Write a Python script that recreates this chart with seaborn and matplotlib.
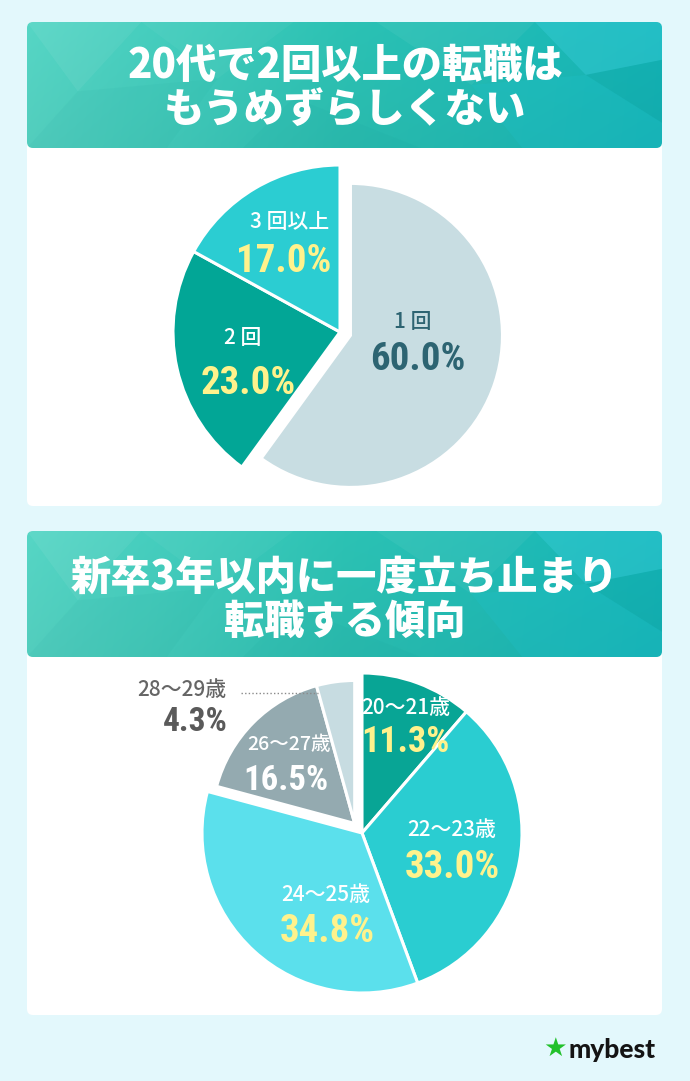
import numpy as np
import matplotlib
matplotlib.use("Agg")
import matplotlib.pyplot as plt
import seaborn as sns
from matplotlib.patches import Polygon, FancyBboxPatch
from matplotlib.colors import to_rgb

# ---------------- data ----------------
title1 = ["20代で2回以上の転職は", "もうめずらしくない"]
pie1_labels = ["1回", "2回", "3回以上"]
pie1_values = [60.0, 23.0, 17.0]
pie1_colors = ["#c8dde2", "#02a696", "#2bcdd2"]

title2 = ["新卒3年以内に一度立ち止まり", "転職する傾向"]
pie2_labels = ["20～21歳", "22～23歳", "24～25歳", "26～27歳", "28～29歳"]
pie2_values = [11.3, 33.0, 34.8, 16.5, 4.3]
pie2_colors = ["#08a595", "#2acdd1", "#5be0ec", "#94aab0", "#c7dce1"]

brand = "mybest"

# ---------------- style ----------------
sns.set_theme(style="white")
plt.rcParams["font.family"] = ["Noto Sans CJK JP", "DejaVu Sans"]
BG = "#e3f8fc"
W, H = 690, 1081


def Y(y):
    return H - y


fig = plt.figure(figsize=(W / 100, H / 100), dpi=100, facecolor=BG)
ax = fig.add_axes([0, 0, 1, 1])
ax.set_facecolor(BG)


def header_image(w, h):
    xs = np.linspace(0, 1, w)[None, :]
    ys = np.linspace(0, 1, h)[:, None]
    left = np.array(to_rgb("#56d6c5"))
    mid = np.array(to_rgb("#2cc2b4"))
    right = np.array(to_rgb("#15b6b8"))
    t = xs[..., None]
    img = np.where(t < 0.5, left + (mid - left) * (t / 0.5),
                   mid + (right - mid) * ((t - 0.5) / 0.5))
    img = img * (1 - 0.04 * ys[..., None])
    img = np.broadcast_to(img, (h, w, 3)).copy()
    return np.clip(img, 0, 1)


def panel(top, hdr_bottom, bottom, lines):
    x0, x1 = 27, 662
    body = FancyBboxPatch((x0, Y(bottom)), x1 - x0, bottom - top,
                          boxstyle="round,pad=0,rounding_size=6",
                          fc="white", ec="none", zorder=1)
    ax.add_patch(body)
    clip = FancyBboxPatch((x0, Y(hdr_bottom)), x1 - x0, hdr_bottom - top,
                          boxstyle="round,pad=0,rounding_size=6",
                          fc="none", ec="none", zorder=2)
    ax.add_patch(clip)
    im = ax.imshow(header_image(300, 60), extent=(x0, x1, Y(hdr_bottom), Y(top)),
                   aspect="auto", zorder=2, interpolation="bilinear")
    im.set_clip_path(clip)
    hh = hdr_bottom - top
    facets = [
        ([(0.00, 0), (0.18, 0), (0.08, 0.55)], "white", 0.06),
        ([(0.18, 0), (0.42, 0), (0.30, 0.45)], "white", 0.04),
        ([(0.08, 0.55), (0.30, 0.45), (0.22, 1.0), (0.0, 1.0)], "#0a8f8a", 0.05),
        ([(0.55, 0), (0.80, 0), (0.70, 0.5)], "white", 0.05),
        ([(0.80, 0), (1.0, 0), (1.0, 0.30), (0.88, 0.42)], "#3fd0e0", 0.35),
        ([(0.88, 0.42), (1.0, 0.30), (1.0, 0.80)], "#0a9ea0", 0.18),
        ([(0.70, 0.5), (0.88, 0.42), (1.0, 0.80), (1.0, 1.0), (0.78, 1.0)], "#20c2cc", 0.25),
        ([(0.42, 0.6), (0.62, 1.0), (0.34, 1.0)], "#0a8f8a", 0.05),
    ]
    for pts, col, a in facets:
        poly = Polygon([(x0 + px * (x1 - x0), Y(top + py * hh)) for px, py in pts],
                       closed=True, fc=col, ec="none", alpha=a, zorder=2.5)
        ax.add_patch(poly)
        poly.set_clip_path(clip)
    for txt, yy in lines:
        ax.text(345, Y(yy), txt, ha="center", va="center", color="white",
                fontsize=29, fontweight="black", zorder=3)


panel(22, 148, 506, [(title1[0], 66), (title1[1], 111)])
panel(531, 657, 1015, [(title2[0], 578), (title2[1], 622)])

wp = dict(edgecolor="white", linewidth=2.2)


def explode_group(wedges, idx, cx, cy, dist, new_r):
    t1 = min(wedges[i].theta1 for i in idx)
    t2 = max(wedges[i].theta2 for i in idx)
    mid = np.deg2rad((t1 + t2) / 2)
    c = (cx + dist * np.cos(mid), cy + dist * np.sin(mid))
    for i in idx:
        wedges[i].set_center(c)
        wedges[i].set_radius(new_r)


# ---------------- pie 1 ----------------
c1 = (340, Y(332))
w1, _ = ax.pie(pie1_values, colors=pie1_colors, startangle=90, counterclock=False,
               center=c1, radius=167, wedgeprops=wp, frame=True)
explode_group(w1, [0], c1[0], c1[1], 11, 152)

PCT = dict(family=["Roboto Condensed", "Roboto", "DejaVu Sans"], fontstretch="condensed",
           fontweight="bold", ha="center", va="center")
LAB = dict(ha="center", va="center", fontsize=15, fontweight="medium")
YEL = "#fff28c"

ax.text(290, Y(222), "3 回以上", color="white", **LAB)
ax.text(284, Y(262), f"{pie1_values[2]:.1f}%", color=YEL, fontsize=28, **PCT)
ax.text(243, Y(338), "2 回", color="white", **LAB)
ax.text(248, Y(384), f"{pie1_values[1]:.1f}%", color=YEL, fontsize=28, **PCT)
ax.text(413, Y(322), "1 回", color="#2d6472", **LAB)
ax.text(418, Y(359), f"{pie1_values[0]:.1f}%", color="#2d6472", fontsize=28, **PCT)

# ---------------- pie 2 ----------------
c2 = (362, Y(833))
w2, _ = ax.pie(pie2_values, colors=pie2_colors, startangle=90, counterclock=False,
               center=c2, radius=160, wedgeprops=wp, frame=True)
explode_group(w2, [3, 4], c2[0], c2[1], 12, 143)

ax.text(406, Y(708), pie2_labels[0], color="white", **LAB)
ax.text(405, Y(742), f"{pie2_values[0]:.1f}%", color=YEL, fontsize=26, **PCT)
ax.text(452, Y(830), pie2_labels[1], color="white", **LAB)
ax.text(452, Y(868), f"{pie2_values[1]:.1f}%", color=YEL, fontsize=28, **PCT)
ax.text(326, Y(895), pie2_labels[2], color="white", **LAB)
ax.text(327, Y(932), f"{pie2_values[2]:.1f}%", color=YEL, fontsize=28, **PCT)
ax.text(289, Y(745), pie2_labels[3], color="white", ha="center", va="center",
        fontsize=14, fontweight="medium")
ax.text(286, Y(780), f"{pie2_values[3]:.1f}%", color="white", fontsize=25, **PCT)
ax.text(182, Y(690), pie2_labels[4], color="#666666", **LAB)
ax.text(195, Y(722), f"{pie2_values[4]:.1f}%", color="#5a5a5a", fontsize=24, **PCT)
ax.plot([241, 318], [Y(693), Y(693)], ls=(0, (1, 1.6)), color="#8a8a8a", lw=1, zorder=5)

# ---------------- logo ----------------
ax.text(555, Y(1049), "★", family=["DejaVu Sans"], color="#22c12b", fontsize=19,
        ha="center", va="center")
ax.text(568, Y(1050), brand, family=["Lato", "DejaVu Sans"], fontweight="black",
        color="#141414", fontsize=19, ha="left", va="center")

ax.set_xlim(0, W)
ax.set_ylim(0, H)
ax.set_aspect("auto")
ax.axis("off")
fig.savefig("out.png", dpi=100, facecolor=BG)
